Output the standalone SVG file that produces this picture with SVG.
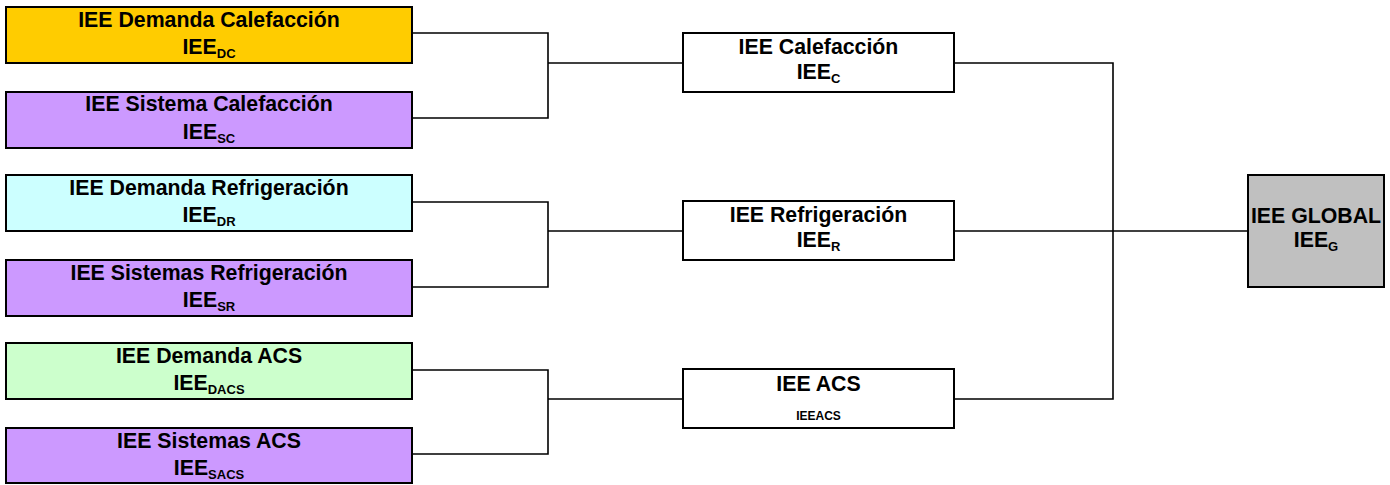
<svg xmlns="http://www.w3.org/2000/svg" width="1390" height="485" viewBox="0 0 1390 485">
<style>
  .box { stroke: #000; stroke-width: 2; }
  .t { font-family: "Liberation Sans", Arial, sans-serif; font-weight: bold; font-size: 21.3px; fill: #000; text-anchor: middle; }
  .sub { font-size: 13px; }
  .small { font-size: 12px; }
  .conn { fill: none; stroke: #000; stroke-width: 1.6; }
</style>
<rect width="1390" height="485" fill="#fff"/>
<g id="connectors">
  <polyline class="conn" points="412,33 548,33 548,118 412,118"/>
  <line class="conn" x1="548" y1="63" x2="683" y2="63"/>
  <polyline class="conn" points="412,202 548,202 548,287 412,287"/>
  <line class="conn" x1="548" y1="231" x2="683" y2="231"/>
  <polyline class="conn" points="412,370 548,370 548,454 412,454"/>
  <line class="conn" x1="548" y1="399" x2="683" y2="399"/>
  <polyline class="conn" points="954,63 1113,63 1113,399 954,399"/>
  <line class="conn" x1="954" y1="231" x2="1248" y2="231"/>
</g>
<g id="demanda-calefaccion">
  <rect class="box" x="6" y="7" width="406" height="56" fill="#FFCC00"/>
  <text class="t" x="209" y="27">IEE Demanda Calefacción</text>
  <text class="t" x="209" y="54">IEE<tspan class="sub" dy="4">DC</tspan></text>
</g>
<g id="sistema-calefaccion">
  <rect class="box" x="6" y="92" width="406" height="56" fill="#CC99FF"/>
  <text class="t" x="209" y="111">IEE Sistema Calefacción</text>
  <text class="t" x="209" y="139">IEE<tspan class="sub" dy="4">SC</tspan></text>
</g>
<g id="demanda-refrigeracion">
  <rect class="box" x="6" y="175" width="406" height="56" fill="#CCFFFF"/>
  <text class="t" x="209" y="195">IEE Demanda Refrigeración</text>
  <text class="t" x="209" y="222">IEE<tspan class="sub" dy="4">DR</tspan></text>
</g>
<g id="sistemas-refrigeracion">
  <rect class="box" x="6" y="260" width="406" height="56" fill="#CC99FF"/>
  <text class="t" x="209" y="280">IEE Sistemas Refrigeración</text>
  <text class="t" x="209" y="307">IEE<tspan class="sub" dy="4">SR</tspan></text>
</g>
<g id="demanda-acs">
  <rect class="box" x="6" y="343" width="406" height="56" fill="#CCFFCC"/>
  <text class="t" x="209" y="363">IEE Demanda ACS</text>
  <text class="t" x="209" y="390">IEE<tspan class="sub" dy="4">DACS</tspan></text>
</g>
<g id="sistemas-acs">
  <rect class="box" x="6" y="428" width="406" height="55" fill="#CC99FF"/>
  <text class="t" x="209" y="448">IEE Sistemas ACS</text>
  <text class="t" x="209" y="475">IEE<tspan class="sub" dy="4">SACS</tspan></text>
</g>
<g id="calefaccion">
  <rect class="box" x="683" y="33" width="271" height="59" fill="#fff"/>
  <text class="t" x="818.5" y="54">IEE Calefacción</text>
  <text class="t" x="818.5" y="79">IEE<tspan class="sub" dy="4">C</tspan></text>
</g>
<g id="refrigeracion">
  <rect class="box" x="683" y="201" width="271" height="59" fill="#fff"/>
  <text class="t" x="818.5" y="222">IEE Refrigeración</text>
  <text class="t" x="818.5" y="247">IEE<tspan class="sub" dy="4">R</tspan></text>
</g>
<g id="acs">
  <rect class="box" x="683" y="369" width="271" height="59" fill="#fff"/>
  <text class="t" x="818.5" y="391">IEE ACS</text>
  <text class="t small" x="818.5" y="420">IEEACS</text>
</g>
<g id="global">
  <rect class="box" x="1248" y="175" width="136" height="112" fill="#C0C0C0"/>
  <text class="t" x="1316" y="223">IEE GLOBAL</text>
  <text class="t" x="1316" y="247">IEE<tspan class="sub" dy="4">G</tspan></text>
</g>
</svg>
